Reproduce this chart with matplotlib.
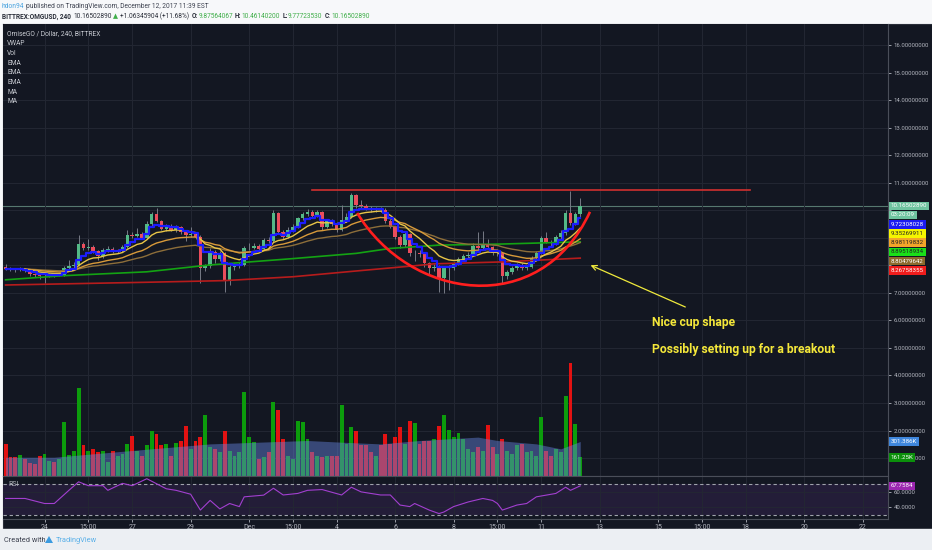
import numpy as np
import pandas as pd
import matplotlib
matplotlib.use("Agg")
import matplotlib.pyplot as plt
from matplotlib.path import Path
from matplotlib.patches import PathPatch, Polygon, Rectangle
from matplotlib.ticker import FixedFormatter

FONT = ["Roboto", "DejaVu Sans"]
plt.rcParams["font.family"] = FONT

# ---- data (4h candles, OMG/USD, from ~Nov 22 16:00 to Dec 12 08:00) ----
first_open = 7.95
close = [7.88, 7.85, 7.84, 7.86, 7.84, 7.68, 7.66, 7.60, 7.63, 7.66,
         7.64, 7.66, 7.90, 7.98, 8.03, 8.77, 8.65, 8.68, 8.52, 8.33,
         8.56, 8.60, 8.50, 8.52, 8.68, 9.11, 9.09, 9.16, 9.00, 9.50,
         9.86, 9.62, 9.33, 9.45, 9.30, 9.40, 9.22, 9.12, 9.14, 9.05,
         7.90, 7.97, 8.50, 8.22, 8.44, 7.42, 7.96, 7.98, 8.02, 8.62,
         8.65, 8.72, 8.60, 8.93, 8.88, 9.90, 9.23, 9.05, 9.29, 9.41,
         9.71, 9.86, 9.96, 9.81, 9.93, 9.41, 9.60, 9.52, 9.29, 9.65,
         9.78, 10.56, 10.20, 10.15, 10.08, 10.02, 10.06, 10.03, 9.62, 9.41,
         9.05, 8.74, 9.13, 8.44, 8.47, 8.40, 8.08, 7.92, 7.96, 7.53,
         7.90, 7.92, 8.08, 8.24, 8.33, 8.38, 8.72, 8.63, 8.74, 8.66,
         8.44, 8.46, 7.60, 7.75, 7.90, 8.02, 7.92, 7.95, 8.29, 8.44,
         8.99, 8.86, 8.82, 9.05, 9.17, 9.90, 9.53, 9.8756, 10.165]
high = [8.05, 7.95, 7.92, 7.93, 7.90, 7.88, 7.74, 7.70, 7.68, 7.72,
        7.70, 7.72, 7.98, 8.20, 8.12, 9.10, 8.85, 8.95, 8.75, 8.58,
        8.62, 8.70, 8.66, 8.60, 8.74, 9.28, 9.20, 9.35, 9.22, 9.62,
        9.95, 10.08, 9.66, 9.52, 9.50, 9.48, 9.45, 9.30, 9.40, 9.20,
        9.10, 8.05, 8.65, 8.56, 8.52, 8.48, 8.02, 8.08, 8.12, 8.70,
        8.80, 8.82, 8.78, 9.00, 9.05, 10.00, 9.95, 9.30, 9.40, 9.50,
        9.78, 9.95, 10.05, 10.02, 10.00, 9.98, 9.68, 9.70, 9.58, 10.20,
        9.90, 10.62, 10.60, 10.38, 10.25, 10.15, 10.14, 10.12, 10.08, 9.70,
        9.45, 9.12, 9.22, 9.18, 8.56, 8.55, 8.45, 8.12, 8.05, 8.00,
        7.98, 8.02, 8.14, 8.30, 8.40, 8.48, 8.80, 9.20, 9.25, 8.95,
        8.70, 8.55, 8.50, 7.85, 7.98, 8.10, 8.08, 8.02, 8.35, 8.52,
        9.08, 9.20, 8.92, 9.12, 9.30, 10.00, 10.72, 9.95, 10.4614]
low = [7.83, 7.80, 7.78, 7.80, 7.78, 7.62, 7.58, 7.52, 7.35, 7.58,
       7.58, 7.60, 7.62, 7.86, 7.92, 7.98, 8.55, 8.58, 8.45, 8.20,
       8.28, 8.50, 8.44, 8.45, 8.48, 8.64, 9.00, 9.04, 8.95, 8.96,
       9.45, 9.58, 9.28, 9.25, 9.24, 9.20, 9.15, 8.90, 9.05, 8.98,
       7.35, 7.80, 7.92, 8.10, 8.15, 7.05, 7.30, 7.85, 7.90, 7.98,
       8.55, 8.60, 8.52, 8.55, 8.80, 8.84, 9.15, 8.95, 9.00, 9.22,
       9.36, 9.65, 9.80, 9.74, 9.75, 9.30, 9.35, 9.44, 9.20, 9.24,
       9.58, 9.72, 10.10, 10.08, 10.00, 9.95, 9.96, 9.96, 9.55, 9.35,
       8.98, 8.65, 8.68, 8.35, 8.15, 8.30, 7.95, 7.70, 7.80, 7.05,
       7.00, 7.12, 7.85, 8.00, 8.15, 8.28, 8.34, 8.58, 8.58, 8.60,
       8.38, 8.35, 7.35, 7.50, 7.68, 7.85, 7.85, 7.85, 7.90, 8.22,
       8.40, 8.80, 8.70, 8.76, 8.98, 9.12, 9.46, 9.48, 9.7772]
volume_k = [280, 160, 160, 186, 150, 110, 100, 177, 190, 130,
            120, 150, 478, 180, 215, 774, 266, 220, 236, 207,
            220, 118, 220, 177, 192, 275, 354, 220, 177, 266,
            390, 372, 266, 280, 177, 290, 310, 437, 236, 310,
            345, 532, 250, 236, 207, 396, 220, 177, 207, 738,
            340, 295, 150, 162, 207, 655, 576, 325, 177, 148,
            481, 472, 325, 207, 177, 162, 177, 177, 177, 626,
            280, 434, 390, 266, 266, 207, 177, 266, 369, 280,
            345, 428, 280, 487, 467, 280, 310, 310, 325, 437,
            540, 399, 340, 378, 325, 236, 207, 250, 220, 443,
            250, 192, 325, 220, 192, 266, 280, 207, 220, 177,
            514, 220, 177, 236, 207, 700, 995, 452, 161.25]
vol_ma_idx = [0, 10, 22, 42, 62, 69, 77, 85, 97, 101, 109, 114, 118]
vol_ma_k = [162, 162, 207, 280, 310, 295, 280, 310, 340, 310, 280, 236, 301.386]

ma_green_idx = [0, 12, 29, 42, 59, 72, 79, 89, 102, 118]
ma_green = [7.48, 7.63, 7.77, 8.02, 8.25, 8.44, 8.62, 8.74, 8.78, 8.86]
ma_red_idx = [0, 29, 45, 59, 72, 84, 88, 102, 118]
ma_red = [7.29, 7.39, 7.45, 7.59, 7.80, 7.99, 8.06, 8.13, 8.268]

rsi_idx = [0, 4, 8, 10, 13, 15, 17, 20, 21, 24, 26, 29, 33, 35, 38, 40, 42, 44,
           46, 48, 49, 53, 55, 57, 60, 62, 65, 69, 71, 73, 77, 79, 81, 83, 84,
           87, 89, 90, 92, 95, 98, 100, 101, 102, 105, 107, 109, 111, 113, 115,
           116, 118]
rsi_val = [51.5, 51.5, 45, 45, 62, 73, 68, 68, 62, 71, 68, 77, 64, 62, 57, 36.5,
           49, 38, 45, 41, 53.6, 55.8, 64.7, 56, 58, 62, 63, 56, 66, 60, 56, 56,
           43, 41, 45, 36.5, 32, 34, 41, 47, 51.5, 49, 45, 36.5, 43, 45, 53.6,
           55.8, 58, 66, 62, 67.7584]

tick_pos = [8, 17, 26, 38, 50, 59, 68, 80, 92, 101, 110, 122, 134, 143, 152, 164, 176]
tick_lab = ["24", "15:00", "27", "29", "Dec", "15:00", "4", "6", "8", "15:00",
            "11", "13", "15", "15:00", "18", "20", "22"]
price_ticks = list(range(1, 17))
hidden_price_ticks = [8, 9, 10]   # covered by the value tags in the original

resist_x = [62.9, 152.9]
resist_y = 10.73
cup_x = [72.2, 83.0, 109.7, 120.0]
cup_y = [9.91, 6.75, 6.02, 9.95]
arrow_from = (140.1, 6.45)
arrow_to = (119.6, 8.05)
notes = ["Nice cup shape", "Possibly setting up for a breakout"]
notes_y = [5.91, 4.96]

last_price = 10.16502890
stack_labels = ["9.72308028", "9.35269911", "8.98119832", "8.89518934", "8.80479642", "8.26758355"]
stack_colors = ["#1b1bf2", "#f5f500", "#f2a52a", "#19e019", "#8c6a2c", "#f01c1c"]
stack_text = ["white", "#222222", "#222222", "#222222", "white", "white"]

# ---- figure ----
W, H = 932, 550
BG = "#131722"
GRID = "#232733"
TXT = "#b2b5be"
EDGE = "#4a4e59"

fig = plt.figure(figsize=(W / 100, H / 100), dpi=100)
fig.patch.set_facecolor("#f7f8fa")


def fx(px):
    return px / W


def fy(py):
    return 1 - py / H


fig.patches.append(Rectangle((0, 0), 1, 21 / H, transform=fig.transFigure,
                             color="#eceff3", zorder=0))
bg = fig.add_axes([fx(3), fy(529), fx(929), (529 - 24) / H])
bg.set_facecolor(BG)
bg.set_xticks([])
bg.set_yticks([])
for s in bg.spines.values():
    s.set_color("#2a2e39")

# main price pane
ax = fig.add_axes([fx(3), fy(475.5), fx(885), (475.5 - 24) / H])
ax.set_facecolor(BG)
ax.set_xlim(-0.53, 181.2)
ax.set_ylim(0.364, 16.78)

# volume overlay (twinx moves ax ticks to the left, so set ticks after)
axv = ax.twinx()
axv.set_ylim(0, 4000)
axv.axis("off")

ax.set_yticks(price_ticks)
ax.yaxis.set_major_formatter(FixedFormatter(
    ["" if p in hidden_price_ticks else f"{p:.8f}" for p in price_ticks]))
ax.yaxis.tick_right()
ax.set_xticks(tick_pos)
ax.set_xticklabels([])
ax.tick_params(axis="x", length=0)
ax.tick_params(axis="y", which="both", left=False, labelleft=False, right=True,
               labelright=True, length=2.5, width=0.6, color=TXT, labelcolor=TXT,
               labelsize=4.3, pad=1.5)
ax.grid(True, color=GRID, lw=0.7)
for name, s in ax.spines.items():
    s.set_visible(name in ("right", "bottom"))
    s.set_color(EDGE)
    s.set_linewidth(0.8)

idx = np.arange(len(close))
c = np.array(close)
o = np.array([first_open] + close[:-1])
up = c >= o
ccol = np.where(up, "#53b987", "#eb4d5c")
ax.vlines(idx, low, high, color="#777b86", lw=0.7, zorder=2)
ax.bar(idx, np.maximum(np.abs(c - o), 0.025), bottom=np.minimum(o, c), width=0.72,
       color=ccol, lw=0, zorder=3)

cs = pd.Series(close)
ema_fast = cs.ewm(span=10, adjust=False).mean()
ema_mid = cs.ewm(span=21, adjust=False).mean()
ema_slow = cs.ewm(span=40, adjust=False).mean()
vwap = cs.ewm(span=5, adjust=False).mean()

ax.plot(ma_red_idx, ma_red, color="#b71c1c", lw=1.2, zorder=4)
ax.plot(ma_green_idx, ma_green, color="#13a313", lw=1.2, zorder=4)
ax.plot(idx, ema_slow, color="#8d6e3a", lw=1.0, zorder=4)
ax.plot(idx, ema_mid, color="#d89a3a", lw=1.0, zorder=4)
ax.plot(idx, ema_fast, color="#e8c547", lw=1.0, zorder=4)
ax.plot(idx, vwap, color="#1c1cff", lw=1.6, drawstyle="steps-mid", zorder=5)

ax.axhline(last_price, color="#56786f", lw=0.8, zorder=1)
ax.plot(resist_x, [resist_y, resist_y], color="#d0302f", lw=1.2, zorder=6)
cup = Path(list(zip(cup_x, cup_y)), [Path.MOVETO, Path.CURVE4, Path.CURVE4, Path.CURVE4])
ax.add_patch(PathPatch(cup, fc="none", ec="#ff1e1e", lw=1.9, zorder=6))
ax.annotate("", xy=arrow_to, xytext=arrow_from,
            arrowprops=dict(arrowstyle="->", color="#f0ea3c", lw=0.9, mutation_scale=9))
for s, yv in zip(notes, notes_y):
    ax.text(132.7, yv, s, color="#f5e83a", fontsize=8.7, fontweight="bold",
            va="center", ha="left")

vcol = np.where(up, "#0c9c0c", "#e31212")
axv.bar(idx, volume_k, width=0.8, color=vcol, lw=0, zorder=2)
axv.fill_between(vol_ma_idx, vol_ma_k, color="#6686e0", alpha=0.45, lw=0, zorder=3)

# RSI pane
axr = fig.add_axes([fx(3), fy(519.3), fx(885), 43.3 / H])
axr.set_facecolor(BG)
axr.set_xlim(-0.53, 181.2)
axr.set_ylim(24.6, 80.5)
axr.set_yticks([40, 60])
axr.set_yticklabels(["40.0000", "60.0000"])
axr.yaxis.tick_right()
axr.set_xticks(tick_pos)
axr.set_xticklabels(tick_lab)
axr.tick_params(axis="y", length=2.5, width=0.6, color=TXT, labelcolor=TXT,
                labelsize=4.3, pad=1.5)
axr.tick_params(axis="x", length=2, width=0.6, color=TXT, labelcolor=TXT,
                labelsize=5, pad=1.5)
axr.grid(True, color=GRID, lw=0.7)
for name, s in axr.spines.items():
    s.set_visible(name in ("right", "bottom", "top"))
    s.set_color(EDGE)
    s.set_linewidth(0.8)
axr.axhspan(30, 70, color="#7b3fb0", alpha=0.16, lw=0)
for lvl in (70, 30):
    axr.axhline(lvl, color="#a0a3ac", lw=0.8, ls=(0, (3, 2.5)))
axr.plot(rsi_idx, rsi_val, color="#a23fd0", lw=0.8)
axr.text(0.006, 0.8, "RSI", transform=axr.transAxes, color=TXT, fontsize=5, va="center")


# right-side value tags
def tag(axis, y, s, fc, tc="white", dy=0.0):
    axis.annotate(s, xy=(1, y), xycoords=("axes fraction", "data"),
                  xytext=(2.0, dy), textcoords="offset points", fontsize=4.4,
                  color=tc, va="center", ha="left", annotation_clip=False, zorder=10,
                  bbox=dict(boxstyle="square,pad=0.3", fc=fc, ec="none"))


tag(ax, last_price, "10.16502890", "#6fc4a0")
tag(ax, last_price, "03:20:09", "#6fc4a0", dy=-6.5)
for k, (s, fc, tc) in enumerate(zip(stack_labels, stack_colors, stack_text)):
    tag(ax, last_price, s, fc, tc, dy=-13.3 - 6.6 * k)
tag(axv, vol_ma_k[-1], "301.386K", "#3f86dc")
tag(axv, volume_k[-1], "161.25K", "#0b8f0b")
tag(axr, rsi_val[-1], "67.7584", "#9c27b0")

# legend text in the pane
legend = ["OmiseGO / Dollar, 240, BITTREX", "VWAP", "Vol", "EMA", "EMA", "EMA", "MA", "MA"]
for k, s in enumerate(legend):
    fig.text(fx(7), fy(34 + 9.67 * k), s, color="#c9ccd3", fontsize=4.8, va="center")

# header lines
renderer = fig.canvas.get_renderer()


def chain(x0, y, parts, size):
    x = x0
    for s, color, weight, gap in parts:
        t = fig.text(fx(x), fy(y), s, color=color, fontsize=size, fontweight=weight,
                     va="center", ha="left")
        x += t.get_window_extent(renderer=renderer).width + gap


DARK = "#2a2e39"
GREEN = "#3fae49"
chain(2, 6, [("hdon94", "#4aa3df", "normal", 1.5),
             ("published on TradingView.com, December 12, 2017 11:39 EST", "#3d4250", "normal", 0)], 4.8)
chain(2, 16.5, [("BITTREX:OMGUSD, 240", DARK, "bold", 2.5),
                ("10.16502890", DARK, "normal", 1.5),
                ("\u25b2", GREEN, "normal", 1.5),
                ("+1.06345904 (+11.68%)", DARK, "normal", 2.5),
                ("O:", DARK, "bold", 0.5), ("9.87564067", GREEN, "normal", 2),
                ("H:", DARK, "bold", 0.5), ("10.46140200", GREEN, "normal", 2),
                ("L:", DARK, "bold", 0.5), ("9.77723530", GREEN, "normal", 2),
                ("C:", DARK, "bold", 0.5), ("10.16502890", GREEN, "normal", 0)], 4.7)

# footer
fig.text(fx(4), fy(540), "Created with", color="#3d4250", fontsize=5.3, va="center")
fig.patches.append(Polygon([(fx(45), fy(543)), (fx(49), fy(536)), (fx(53), fy(543))],
                           closed=True, transform=fig.transFigure, fc="#3b9be0", ec="none"))
fig.text(fx(56), fy(540), "TradingView", color="#5ab0e8", fontsize=5.3, va="center")

fig.savefig("out.png", dpi=100, facecolor=fig.get_facecolor())
